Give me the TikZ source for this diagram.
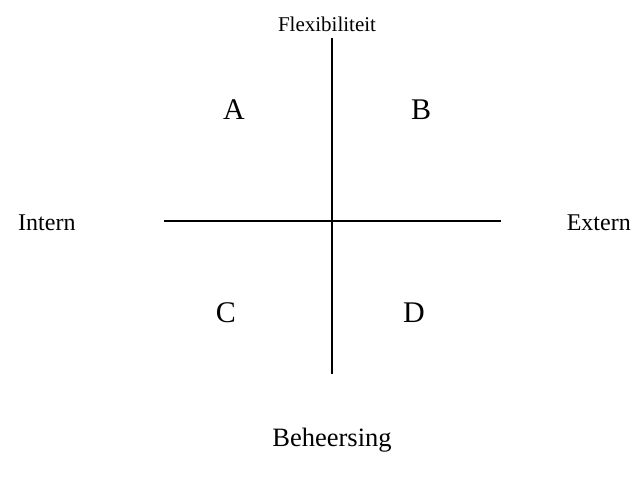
\documentclass[tikz,border=0pt]{standalone}
\usepackage{fontspec}
\setmainfont{Liberation Serif}
\usetikzlibrary{positioning}
\tikzset{
  axislbl/.style = {anchor=base, inner sep=0pt, font=\fontsize{24}{24}\selectfont},
  toplbl/.style  = {anchor=base, inner sep=0pt, font=\fontsize{21}{21}\selectfont},
  botlbl/.style  = {anchor=base, inner sep=0pt, font=\fontsize{26.5}{26.5}\selectfont},
  quad/.style    = {anchor=base, inner sep=0pt, font=\fontsize{30}{30}\selectfont},
  axis/.style    = {line width=2pt},
}
\begin{document}
\begin{tikzpicture}[x=1pt,y=-1pt]
  \useasboundingbox (0,0) rectangle (634,479);
  % axes
  \coordinate (top) at (332,38);
  \coordinate (bot) at (332,374);
  \coordinate (lft) at (164,221);
  \coordinate (rgt) at (501,221);
  \draw[axis] (top) -- (bot);
  \draw[axis] (lft) -- (rgt);
  % axis labels
  \node[toplbl] (flex) at (327,31) {Flexibiliteit};
  \node[botlbl] (beh) at (332,446) {Beheersing};
  \node[axislbl, anchor=base west] (int) at (18,230) {Intern};
  \node[axislbl, anchor=base east] (ext) at (631,230) {Extern};
  % quadrants
  \node[quad] (qa) at (234,119) {A};
  \node[quad] (qb) at (421,119) {B};
  \node[quad] (qc) at (226,322) {C};
  \node[quad] (qd) at (414,322) {D};
\end{tikzpicture}
\end{document}
